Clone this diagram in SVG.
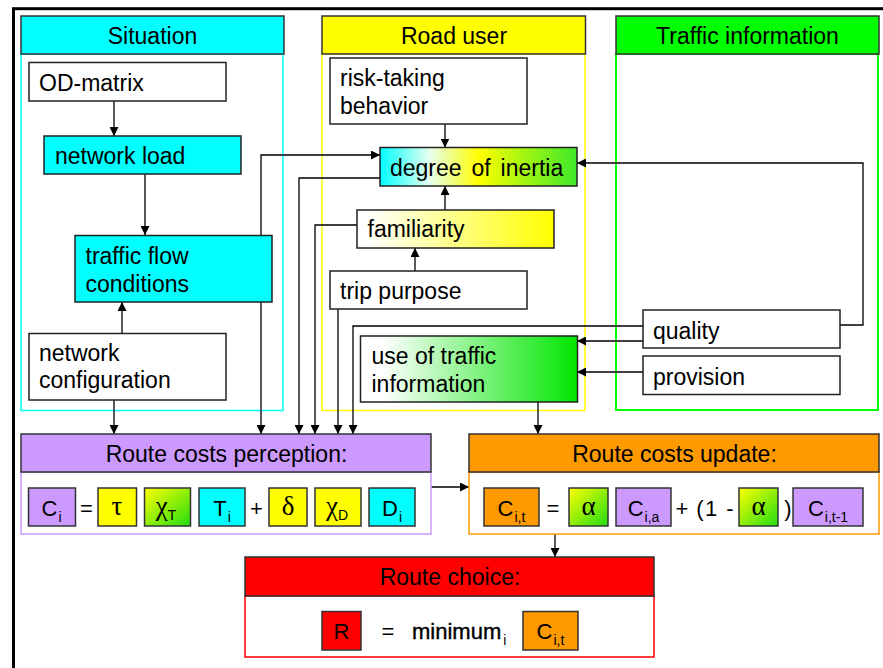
<svg xmlns="http://www.w3.org/2000/svg" width="883" height="668" viewBox="0 0 883 668">
  <defs>
    <marker id="arrow" viewBox="0 0 10 10" refX="10" refY="5" markerWidth="9" markerHeight="9" markerUnits="userSpaceOnUse" orient="auto">
      <path d="M0,0 L10,5 L0,10 z" fill="#000"/>
    </marker>
    <linearGradient id="gInertia" x1="0" y1="0" x2="1" y2="0">
      <stop offset="0" stop-color="#00ffff"/>
      <stop offset="0.25" stop-color="#e6fff0"/>
      <stop offset="0.5" stop-color="#ffff00"/>
      <stop offset="1" stop-color="#3de92a"/>
    </linearGradient>
    <linearGradient id="gFam" x1="0" y1="0" x2="1" y2="0">
      <stop offset="0.05" stop-color="#ffffff"/>
      <stop offset="1" stop-color="#ffff00"/>
    </linearGradient>
    <linearGradient id="gUse" x1="0" y1="0" x2="1" y2="0">
      <stop offset="0.1" stop-color="#ffffff"/>
      <stop offset="1" stop-color="#00e600"/>
    </linearGradient>
    <linearGradient id="gDiag" x1="0" y1="0" x2="1" y2="1">
      <stop offset="0" stop-color="#ffff00"/>
      <stop offset="1" stop-color="#22dd11"/>
    </linearGradient>
  </defs>
  <style>
    text { font-family: "Liberation Sans", Arial, sans-serif; fill: #000; }
    .lbl { font-size: 23px; }
    .hd { font-size: 23px; text-anchor: middle; }
    .f { font-size: 22px; text-anchor: middle; }
    .g { font-family: "Liberation Serif", "Times New Roman", serif; font-size: 27px; text-anchor: middle; }
    .sub { font-size: 14px; }
    .node { stroke: #222; stroke-width: 1.5; }
    .head { stroke: #333; stroke-width: 1.5; }
    .term { stroke: #333; stroke-width: 1.5; }
    .conn { fill: none; stroke: #000; stroke-width: 1.3; marker-end: url(#arrow); }
  </style>

  <rect width="883" height="668" fill="#fff"/>
  <!-- outer frame -->
  <rect x="13.5" y="8.7" width="900" height="700" fill="none" stroke="#000" stroke-width="3"/>

  <!-- panels -->
  <g id="panel-situation">
    <rect x="21" y="54" width="262" height="356.5" fill="none" stroke="#00ffff" stroke-width="1.5"/>
    <rect x="21" y="16" width="263" height="38" fill="#00ffff" class="head"/>
    <text class="hd" x="152.5" y="44">Situation</text>
  </g>
  <g id="panel-road-user">
    <rect x="322" y="54" width="263" height="356.5" fill="none" stroke="#ffff00" stroke-width="1.5"/>
    <rect x="322" y="16" width="263.5" height="38" fill="#ffff00" class="head"/>
    <text class="hd" x="454" y="44">Road user</text>
  </g>
  <g id="panel-traffic-information">
    <rect x="616" y="54" width="262" height="356" fill="none" stroke="#00ff00" stroke-width="2"/>
    <rect x="616" y="16" width="263" height="38" fill="#00ff00" class="head"/>
    <text class="hd" x="747.5" y="44">Traffic information</text>
  </g>

  <!-- connectors -->
  <g id="connectors">
    <path class="conn" d="M114,101 V136"/>
    <path class="conn" d="M145,174 V235"/>
    <path class="conn" d="M122,333 V302"/>
    <path class="conn" d="M114,400 V434"/>
    <path class="conn" d="M261,235 V155 H380"/>
    <path class="conn" d="M261,302 V434"/>
    <path class="conn" d="M380,178 H299 V434"/>
    <path class="conn" d="M357,225 H315 V434"/>
    <path class="conn" d="M338,309 V434"/>
    <path class="conn" d="M643,326 H353 V434"/>
    <path class="conn" d="M643,341 H577"/>
    <path class="conn" d="M643,372 H577"/>
    <path class="conn" d="M840,325 H863 V163 H577"/>
    <path class="conn" d="M445,124 V147.5"/>
    <path class="conn" d="M445,210 V186"/>
    <path class="conn" d="M415,271 V248"/>
    <path class="conn" d="M538,402 V434"/>
    <path class="conn" d="M431,487 H469"/>
    <path class="conn" d="M555,534 V557"/>
  </g>

  <!-- Situation nodes -->
  <g id="od-matrix">
    <rect x="29" y="62.5" width="197" height="38.5" fill="#fff" class="node"/>
    <text class="lbl" x="39" y="91">OD-matrix</text>
  </g>
  <g id="network-load">
    <rect x="44" y="136" width="197" height="38" fill="#00ffff" class="node"/>
    <text class="lbl" x="55" y="163.5">network load</text>
  </g>
  <g id="traffic-flow-conditions">
    <rect x="75" y="235.5" width="197" height="66.5" fill="#00ffff" class="node"/>
    <text class="lbl" x="85.5" y="264">traffic flow</text>
    <text class="lbl" x="85.5" y="291.5">conditions</text>
  </g>
  <g id="network-configuration">
    <rect x="29" y="333.5" width="197" height="66.5" fill="#fff" class="node"/>
    <text class="lbl" x="39" y="360.5">network</text>
    <text class="lbl" x="39" y="388">configuration</text>
  </g>

  <!-- Road user nodes -->
  <g id="risk-taking-behavior">
    <rect x="330" y="58" width="197" height="66" fill="#fff" class="node"/>
    <text class="lbl" x="340" y="86">risk-taking</text>
    <text class="lbl" x="340" y="113.5">behavior</text>
  </g>
  <g id="degree-of-inertia">
    <rect x="380" y="147.5" width="197" height="38.5" fill="url(#gInertia)" class="node"/>
    <text class="lbl" x="390" y="176" word-spacing="3.5">degree of inertia</text>
  </g>
  <g id="familiarity">
    <rect x="357" y="210" width="197" height="38" fill="url(#gFam)" class="node"/>
    <text class="lbl" x="367.5" y="237">familiarity</text>
  </g>
  <g id="trip-purpose">
    <rect x="330" y="271" width="197" height="38" fill="#fff" class="node"/>
    <text class="lbl" x="340" y="298.5">trip purpose</text>
  </g>
  <g id="use-of-traffic-information">
    <rect x="360.5" y="336" width="217" height="66" fill="url(#gUse)" class="node"/>
    <text class="lbl" x="371.5" y="363.5">use of traffic</text>
    <text class="lbl" x="371.5" y="392">information</text>
  </g>

  <!-- Traffic information nodes -->
  <g id="quality">
    <rect x="643" y="310" width="197" height="38" fill="#fff" class="node"/>
    <text class="lbl" x="653" y="338.5">quality</text>
  </g>
  <g id="provision">
    <rect x="643" y="356" width="197" height="38.5" fill="#fff" class="node"/>
    <text class="lbl" x="653" y="385">provision</text>
  </g>

  <!-- Route costs perception -->
  <g id="route-costs-perception">
    <rect x="21" y="472" width="410" height="62" fill="#fff" stroke="#cc99ff" stroke-width="1.5"/>
    <rect x="21" y="434" width="410" height="38" fill="#cc99ff" class="head"/>
    <text class="hd" x="226.5" y="462">Route costs perception:</text>
    <rect x="28.5" y="488" width="47" height="38" fill="#cc99ff" class="term"/>
    <text class="f" x="51.5" y="515.5">C<tspan class="sub" dy="6" dx="1">i</tspan></text>
    <text class="f" x="86.5" y="515.5" font-size="26">=</text>
    <rect x="98" y="488" width="38.5" height="38" fill="#ffff00" class="term"/>
    <text class="g" x="117" y="515">τ</text>
    <rect x="144.5" y="488" width="46" height="38" fill="url(#gDiag)" class="term"/>
    <text class="g" x="166" y="515">χ<tspan class="sub" font-family="Liberation Sans, Arial, sans-serif" dy="5">T</tspan></text>
    <rect x="199" y="488" width="46" height="38" fill="#00ffff" class="term"/>
    <text class="f" x="222" y="515.5">T<tspan class="sub" dy="6" dx="1">i</tspan></text>
    <text class="f" x="256.5" y="515.5" font-size="26">+</text>
    <rect x="269" y="488" width="38" height="38" fill="#ffff00" class="term"/>
    <text class="g" x="288" y="515">δ</text>
    <rect x="315" y="488" width="46" height="38" fill="#ffff00" class="term"/>
    <text class="g" x="337" y="515">χ<tspan class="sub" font-family="Liberation Sans, Arial, sans-serif" dy="5">D</tspan></text>
    <rect x="369" y="488" width="46" height="38" fill="#00ffff" class="term"/>
    <text class="f" x="392" y="515.5">D<tspan class="sub" dy="6" dx="1">i</tspan></text>
  </g>

  <!-- Route costs update -->
  <g id="route-costs-update">
    <rect x="469" y="472" width="410" height="62" fill="#fff" stroke="#ff9900" stroke-width="1.5"/>
    <rect x="469" y="434" width="410" height="38" fill="#ff9900" class="head"/>
    <text class="hd" x="674.5" y="462">Route costs update:</text>
    <rect x="484" y="488" width="55" height="38" fill="#ff9900" class="term"/>
    <text class="f" x="511.5" y="516">C<tspan class="sub" dy="6" dx="1">i,t</tspan></text>
    <text class="f" x="553" y="516" font-size="26">=</text>
    <rect x="569" y="488" width="39" height="38" fill="url(#gDiag)" class="term"/>
    <text class="g" x="588.5" y="515">α</text>
    <rect x="616" y="488" width="55" height="38" fill="#cc99ff" class="term"/>
    <text class="f" x="643.5" y="516">C<tspan class="sub" dy="6" dx="1">i,a</tspan></text>
    <text class="f" x="682" y="516" font-size="26">+</text>
    <text class="f" x="700" y="516">(</text>
    <text class="f" x="711" y="516">1</text>
    <text class="f" x="730" y="516">-</text>
    <rect x="739" y="488" width="39" height="38" fill="url(#gDiag)" class="term"/>
    <text class="g" x="758.5" y="515">α</text>
    <text class="f" x="788" y="516">)</text>
    <rect x="793" y="488" width="70" height="38" fill="#cc99ff" class="term"/>
    <text class="f" x="828" y="516">C<tspan class="sub" dy="6" dx="1">i,t-1</tspan></text>
  </g>

  <!-- Route choice -->
  <g id="route-choice">
    <rect x="245" y="596" width="409" height="61" fill="#fff" stroke="#ff0000" stroke-width="1.5"/>
    <rect x="245" y="557" width="409" height="39" fill="#ff0000" class="head"/>
    <text class="hd" x="450" y="585">Route choice:</text>
    <rect x="322" y="611.5" width="39" height="38.5" fill="#ff0000" class="term"/>
    <text class="f" x="341.5" y="639">R</text>
    <text class="f" x="388" y="639" font-size="26">=</text>
    <text x="412" y="639" font-size="22" stroke="#000" stroke-width="0.4">minimum<tspan class="sub" stroke="none" dy="6" dx="2">i</tspan></text>
    <rect x="523" y="611.5" width="55" height="38.5" fill="#ff9900" class="term"/>
    <text class="f" x="550.5" y="639">C<tspan class="sub" dy="6" dx="1">i,t</tspan></text>
  </g>
</svg>
